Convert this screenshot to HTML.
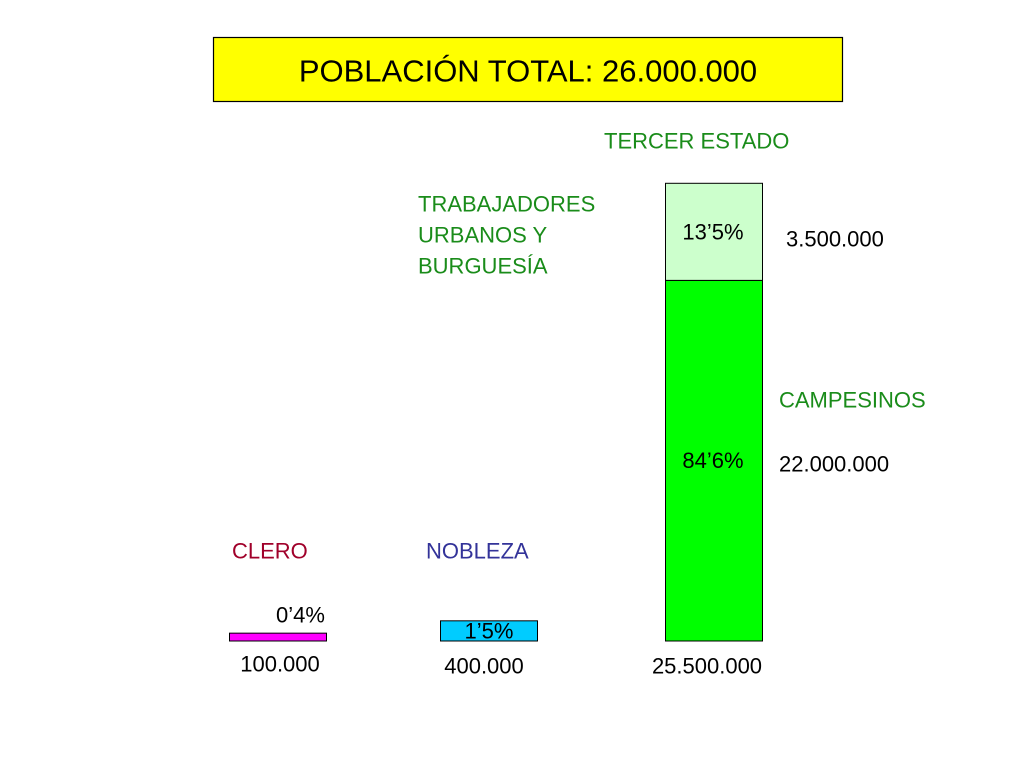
<!DOCTYPE html>
<html><head><meta charset="utf-8"><style>
html,body{margin:0;padding:0;background:#fff;}
svg{display:block;font-family:"Liberation Sans",sans-serif;}
</style></head><body>
<svg id="chart" width="1024" height="768" viewBox="0 0 1024 768">
<rect x="213.5" y="37.5" width="629" height="64" fill="#ffff00" stroke="#000" stroke-width="1.2"/>
<text x="528" y="71" font-size="31" text-anchor="middle" dominant-baseline="central" fill="#000">POBLACIÓN TOTAL: 26.000.000</text>
<g id="marks"></g>
</svg>
<script>
const categories = ["CLERO", "NOBLEZA", "CAMPESINOS", "TRABAJADORES URBANOS Y BURGUESÍA"];
const percents = [0.4, 1.5, 84.6, 13.5];
const percentLabels = ["0’4%", "1’5%", "84’6%", "13’5%"];
const populations = ["100.000", "400.000", "22.000.000", "3.500.000"];
const tercerTotal = "25.500.000";

const svgNS = "http://www.w3.org/2000/svg";
const g = document.getElementById("marks");
const baseY = 641;
function h(p){ return 15.1 * Math.pow(p, 0.715); }
function mk(tag, attrs, txt){
  const e = document.createElementNS(svgNS, tag);
  for (const k in attrs) e.setAttribute(k, attrs[k]);
  if (txt !== undefined) e.textContent = txt;
  g.appendChild(e);
  return e;
}
function txt(x, y, s, color, anchor, size){
  return mk("text", {x:x, y:y, "font-size":size||22, fill:color||"#000", "text-anchor":anchor||"start", "dominant-baseline":"central"}, s);
}
const green = "#1a8c1a";
// Clero
let hc = h(percents[0]);
let b = mk("rect", {x:229.5, y:baseY-hc, width:97, height:hc, fill:"#ff00ff", stroke:"#000", "stroke-width":1});


let t = txt(276, baseY-hc-18, percentLabels[0]);


t = txt(232, 551, categories[0], "#a0002a");


t = txt(280, 664, populations[0], "#000", "middle");


// Nobleza
let hn = h(percents[1]);
b = mk("rect", {x:440.5, y:baseY-hn, width:97, height:hn, fill:"#00ccff", stroke:"#000", "stroke-width":1});


t = txt(489, baseY-hn/2, percentLabels[1], "#000", "middle");


t = txt(426, 551, categories[1], "#333399");


t = txt(484, 666, populations[1], "#000", "middle");


// Tercer estado stacked
let hcamp = h(percents[2]), hurb = h(percents[3]);
let splitY = baseY - hcamp, topY = splitY - hurb;
b = mk("rect", {x:665.5, y:splitY, width:97, height:hcamp, fill:"#00ff00", stroke:"#000", "stroke-width":1});


b = mk("rect", {x:665.5, y:topY, width:97, height:hurb, fill:"#ccffcc", stroke:"#000", "stroke-width":1});


t = txt(713, splitY + hcamp*0.5, percentLabels[2], "#000", "middle");


t = txt(713, topY + hurb*0.5, percentLabels[3], "#000", "middle");


t = txt(604, 141, "TERCER ESTADO", green);


["TRABAJADORES","URBANOS Y","BURGUESÍA"].forEach((s,i)=>{
  const tt = txt(418, 204 + i*31, s, green);
  
  
});
t = txt(786, 239, populations[3]);


t = txt(779, 400, categories[2], green);


t = txt(779, 464, populations[2]);


t = txt(707, 666, tercerTotal, "#000", "middle");


</script>
</body></html>
